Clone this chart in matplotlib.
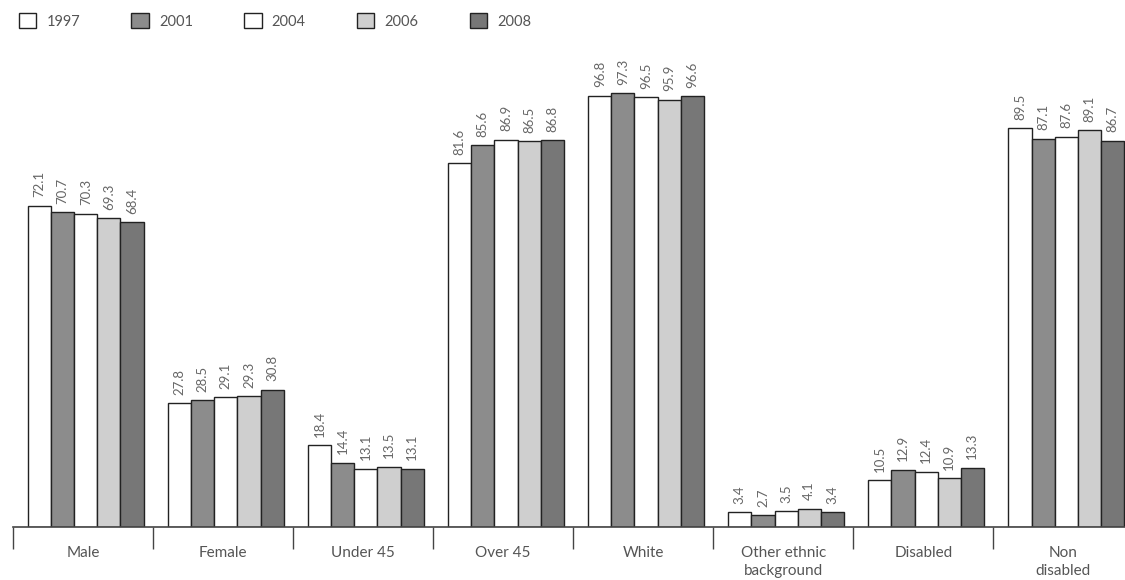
import matplotlib
matplotlib.use("Agg")
import matplotlib.pyplot as plt
import numpy as np

categories = ["Male", "Female", "Under 45", "Over 45", "White",
              "Other ethnic\nbackground", "Disabled", "Non\ndisabled"]
years = ["1997", "2001", "2004", "2006", "2008"]
v1997 = [72.1, 27.8, 18.4, 81.6, 96.8, 3.4, 10.5, 89.5]
v2001 = [70.7, 28.5, 14.4, 85.6, 97.3, 2.7, 12.9, 87.1]
v2004 = [70.3, 29.1, 13.1, 86.9, 96.5, 3.5, 12.4, 87.6]
v2006 = [69.3, 29.3, 13.5, 86.5, 95.9, 4.1, 10.9, 89.1]
v2008 = [68.4, 30.8, 13.1, 86.8, 96.6, 3.4, 13.3, 86.7]
series = [v1997, v2001, v2004, v2006, v2008]
colors = ["#ffffff", "#8c8c8c", "#ffffff", "#cfcfcf", "#777777"]

plt.rcParams['font.family'] = ['Lato', 'DejaVu Sans']

fig = plt.figure(figsize=(11.25, 5.8), dpi=100)
ax = fig.add_axes([13/1125, 53/580, 1112/1125, 517/580])

x = np.arange(len(categories))
bw = 0.165
for i, (vals, col, yr) in enumerate(zip(series, colors, years)):
    pos = x + (i - 2) * bw + 0.02
    ax.bar(pos, vals, width=bw, color=col, edgecolor="#222222",
           linewidth=1.0, label=yr)
    for p, v in zip(pos, vals):
        ax.annotate(f"{v}", (p, v), xytext=(0, 6), textcoords="offset points",
                    rotation=90, ha="center", va="bottom", fontsize=9.5,
                    color="#666666")

ax.set_xlim(-0.5, 7.44)
ax.set_ylim(0, 116)
for s in ["top", "right", "left"]:
    ax.spines[s].set_visible(False)
ax.spines["bottom"].set_color("#444444")
ax.spines["bottom"].set_linewidth(1.2)
ax.set_yticks([])
ax.set_xticks(x)
ax.set_xticklabels(categories, fontsize=11, color="#555555", linespacing=1.3)
ax.tick_params(axis="x", which="major", length=0, pad=14)
ax.set_xticks(np.arange(-0.5, 7.5, 1.0), minor=True)
ax.tick_params(axis="x", which="minor", length=16, width=1.0, color="#444444")

leg = fig.legend(loc="upper left", bbox_to_anchor=(0.005, 1.0), ncol=5,
                 frameon=False, fontsize=10.5, handlelength=1.2,
                 handleheight=1.2, columnspacing=3.5, handletextpad=0.7)
for t in leg.get_texts():
    t.set_color("#555555")

fig.savefig("out.png", dpi=100)
